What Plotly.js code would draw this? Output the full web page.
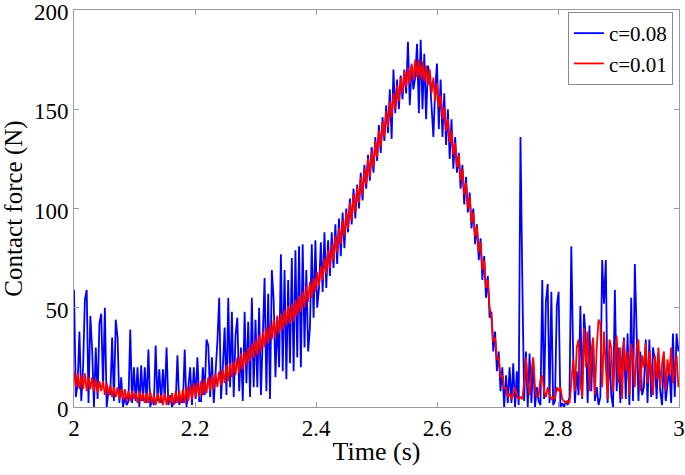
<!DOCTYPE html>
<html>
<head>
<meta charset="utf-8">
<script src="https://cdn.plot.ly/plotly-3.0.1.min.js"></script>
<style>html,body{margin:0;padding:0;background:#fff;}#chart{width:685px;height:475px;}</style>
</head>
<body>
<div id="chart"></div>
<script>
// Sampling grid (seconds)
const tStart = 2.0;
const tStep = 0.003;

// Contact force (N), c = 0.08
const forceC008 = [
  59,5,12,38,3,20,54,59,2,46,
  29,0,30,4,42,47,10,50,0,8,
  6,35,3,44,35,2,15,0,5,1,
  3,39,2,20,3,20,0,21,3,20,
  2,29,0,4,1,31,3,19,2,19,
  4,30,1,6,0,3,2,26,1,5,
  2,29,0,10,20,1,20,4,25,3,
  3,20,6,34,31,5,25,2,17,33,
  55,4,20,40,6,55,10,48,5,36,
  45,8,30,3,48,12,43,5,55,10,
  44,10,50,6,35,65,8,57,4,69,
  54,15,45,20,77,18,69,14,64,22,
  75,18,79,25,81,20,82,30,69,28,
  40,82,45,84,50,60,83,58,88,60,
  84,66,88,70,92,72,95,76,98,80,
  100,88,105,92,110,95,112,100,118,104,
  122,110,127,114,131,118,136,124,142,128,
  146,134,152,138,160,135,170,148,165,150,
  167,155,170,158,184,152,172,160,166,183,
  148,185,150,178,145,172,167,152,136,160,
  173,140,165,136,158,132,150,125,145,120,
  136,118,128,110,122,102,116,98,108,90,
  100,82,92,74,85,64,76,55,66,45,
  48,28,38,18,28,8,20,0,16,2,
  20,2,22,0,18,1,136,64,3,28,
  0,27,2,24,0,10,3,1,64,4,
  53,62,2,58,1,3,51,58,0,2,
  0,3,1,5,81,27,2,18,6,51,
  4,47,35,2,41,8,34,3,10,1,
  5,74,52,74,2,28,6,0,59,8,
  30,2,24,35,4,37,1,55,3,72,
  35,3,28,6,10,34,2,34,5,30,
  24,4,27,8,1,25,3,12,20,2,
  37,5,37,28
];

// Contact force (N), c = 0.01
const forceC001 = [
  18,10,17,9,16,9,17,8,15,9,
  15,8,14,7,13,8,13,6,12,6,
  11,5,10,5,10,4,9,4,9,3,
  8,3,8,4,7,2,8,3,7,2,
  7,2,8,2,6,1,7,2,6,1,
  7,1,6,2,7,1,8,2,8,2,
  9,2,10,3,11,4,12,5,12,5,
  13,6,14,7,15,8,16,9,17,10,
  18,11,19,12,21,13,22,15,23,16,
  25,17,27,19,28,21,30,23,32,25,
  34,26,36,28,38,30,40,32,42,34,
  44,35,46,37,47,39,49,41,51,42,
  52,43,54,46,56,48,58,50,61,53,
  63,55,65,58,68,61,71,64,75,67,
  79,70,82,74,86,78,90,82,94,86,
  98,90,103,94,107,98,111,103,116,107,
  120,112,125,116,129,121,134,126,139,131,
  144,136,149,141,154,146,158,150,162,154,
  166,158,169,161,171,163,173,165,175,166,
  175,165,174,164,172,162,170,158,166,154,
  163,151,157,145,151,139,145,133,139,127,
  133,121,127,114,120,107,113,100,106,93,
  98,86,91,78,83,69,74,60,64,50,
  45,33,35,24,25,15,16,9,10,5,
  7,4,6,10,5,4,5,4,12,25,
  12,6,18,25,10,5,6,14,16,8,
  5,10,6,4,5,4,10,8,10,4,
  3,2,3,2,12,24,8,30,34,12,
  5,40,20,38,8,28,35,6,30,44,
  42,10,38,22,4,34,30,8,26,36,
  12,30,4,34,18,28,6,32,24,10,
  30,34,8,26,20,32,12,28,18,6,
  26,14,30,10,22,28,8,24,16,30,
  12,20,26,10
];

const seriesNames = ['c=0.08', 'c=0.01'];
const xTickVals = [2, 2.2, 2.4, 2.6, 2.8, 3];
const xTickText = ['2', '2.2', '2.4', '2.6', '2.8', '3'];
const yTickVals = [0, 50, 100, 150, 200];

const serif = 'Liberation Serif';

const traces = [
  {type: 'scatter', mode: 'lines', name: seriesNames[0], x0: tStart, dx: tStep, y: forceC008,
   line: {color: 'rgb(0,0,255)', width: 1.8}},
  {type: 'scatter', mode: 'lines', name: seriesNames[1], x0: tStart, dx: tStep, y: forceC001,
   line: {color: 'rgb(255,0,0)', width: 1.8}}
];

const axisCommon = {
  showline: true, mirror: 'ticks', linecolor: '#9a9a9a', linewidth: 1,
  ticks: 'inside', ticklen: 5, tickcolor: '#9a9a9a', tickwidth: 1,
  showgrid: false, zeroline: false, ticklabeloverflow: 'allow',
  tickfont: {family: serif, size: 23, color: '#000'}
};

const layout = {
  width: 685, height: 475,
  margin: {l: 74, r: 6, t: 10, b: 68},
  paper_bgcolor: '#fff', plot_bgcolor: '#fff',
  showlegend: true,
  legend: {
    x: 0.99, xanchor: 'right', y: 0.995, yanchor: 'top',
    bgcolor: '#fff', bordercolor: '#8a8a8a', borderwidth: 1,
    font: {family: serif, size: 21, color: '#000'},
    itemwidth: 30, tracegroupgap: 0
  },
  xaxis: Object.assign({}, axisCommon, {
    range: [2, 3], tickvals: xTickVals, ticktext: xTickText,
    title: {text: 'Time (s)', font: {family: serif, size: 26, color: '#000'}, standoff: 2}
  }),
  yaxis: Object.assign({}, axisCommon, {
    range: [0, 200], tickvals: yTickVals, ticklabelshift: 2,
    title: {text: 'Contact force (N)', font: {family: serif, size: 25, color: '#000'}, standoff: 4}
  })
};

Plotly.newPlot('chart', traces, layout, {displayModeBar: false, staticPlot: true});
</script>
</body>
</html>
